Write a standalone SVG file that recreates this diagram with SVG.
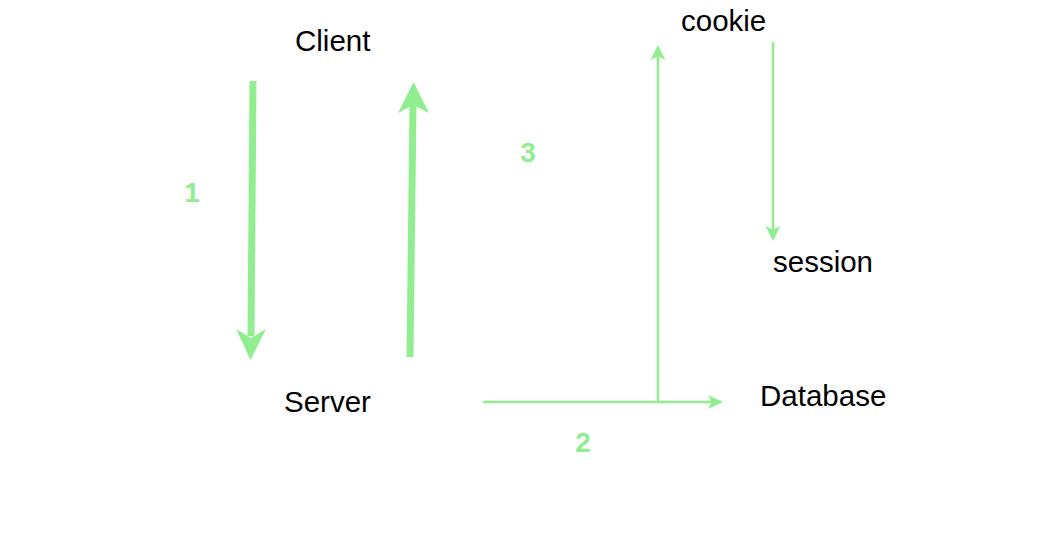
<svg xmlns="http://www.w3.org/2000/svg" width="1038" height="545" viewBox="0 0 1038 545">
<style>
.lbl{font-family:"Liberation Sans",Arial,sans-serif;font-size:29.5px;fill:#000}
.num{font-family:"Liberation Sans",Arial,sans-serif;font-size:28px;font-weight:bold;fill:#90EE90;text-anchor:middle}
.thick{stroke:#90EE90;stroke-width:7;fill:none}
.thin{stroke:#90EE90;stroke-width:2.5;fill:none}
.head{fill:#90EE90;stroke:none}
</style>
<rect width="1038" height="545" fill="#fff"/>
<g id="client"><text class="lbl" x="295" y="51">Client</text></g>
<g id="server"><text class="lbl" x="284" y="412">Server</text></g>
<g id="cookie"><text class="lbl" x="681" y="31">cookie</text></g>
<g id="session"><text class="lbl" x="773" y="272">session</text></g>
<g id="database"><text class="lbl" x="760" y="406">Database</text></g>
<g id="labels">
<text class="num" x="192" y="202">1</text>
<text class="num" x="583" y="452">2</text>
<text class="num" x="528" y="162">3</text>
</g>
<g id="connectors">
<line class="thick" x1="253" y1="81" x2="251" y2="336"/>
<path class="head" d="M250.5 360 L236 329 L251 338 L266 329 Z"/>
<line class="thick" x1="410" y1="357" x2="413" y2="104"/>
<path class="head" d="M413.5 82 L398 113 L413.5 105 L429 113 Z"/>
<line class="thin" x1="483" y1="402" x2="712" y2="402"/>
<path class="head" d="M723 402 L708 395 L712 402 L708 409 Z"/>
<line class="thin" x1="658" y1="402" x2="658" y2="56"/>
<path class="head" d="M658 45 L650.5 60 L658 56 L665.5 60 Z"/>
<line class="thin" x1="773" y1="42" x2="773" y2="230"/>
<path class="head" d="M773 241 L765.5 226 L773 230 L780.5 226 Z"/>
</g>
</svg>
